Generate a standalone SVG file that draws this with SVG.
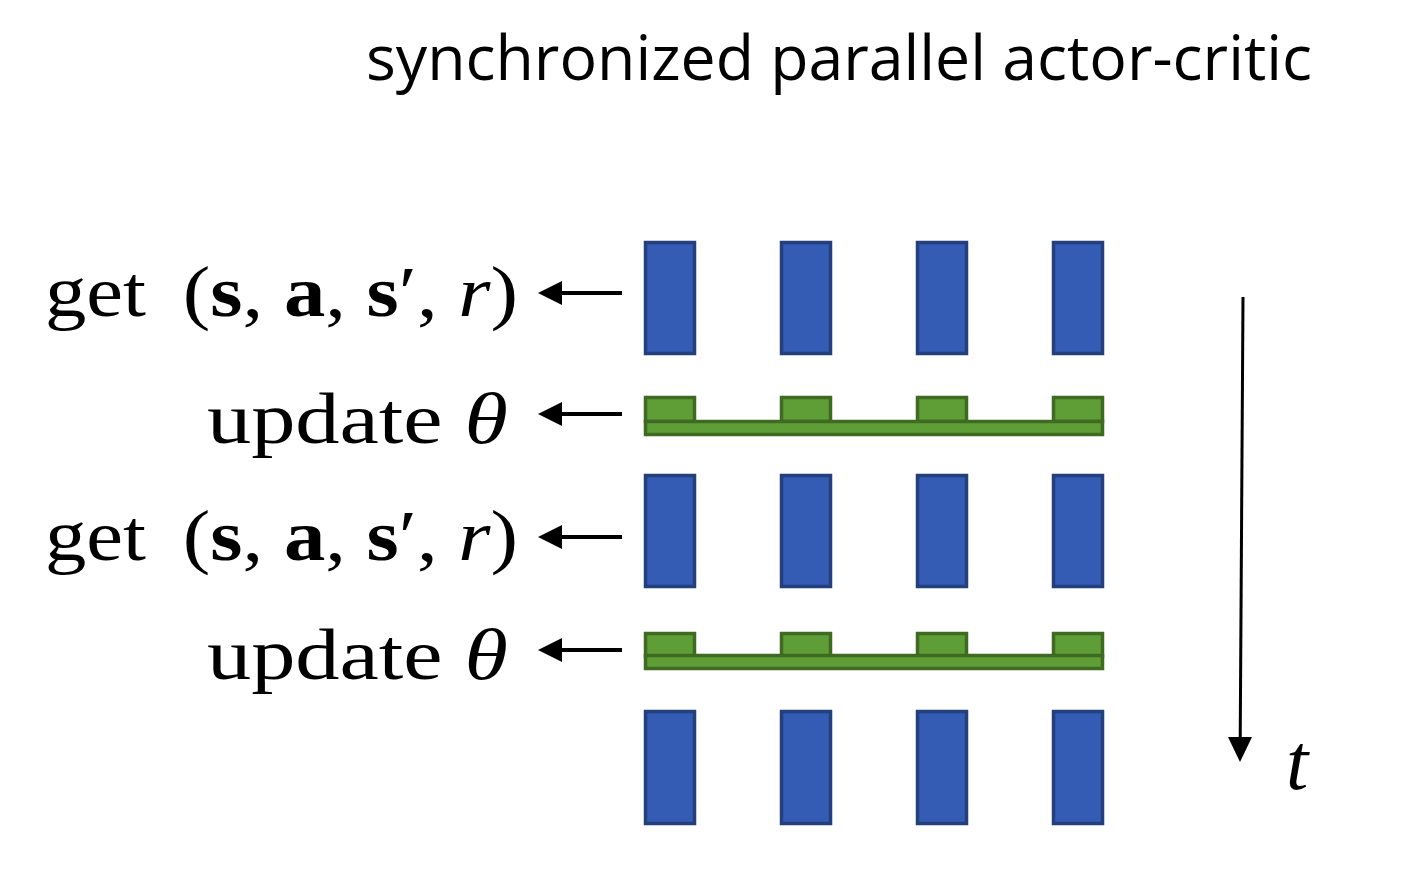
<svg xmlns="http://www.w3.org/2000/svg" width="1409" height="887" viewBox="0 0 1409 887">
<style>
.blue{fill:#355cb5;stroke:#233f7c;stroke-width:3.5}
.green{fill:#5f9e36;stroke:#3e6a22;stroke-width:3.5}
.math{font-family:"Liberation Serif","DejaVu Serif",serif;font-size:72px;fill:#000}
.title{font-family:"Open Sans","Noto Sans",sans-serif;font-size:63px;fill:#000}
.arr{stroke:#000;stroke-width:4;fill:none}
</style>
<rect width="1409" height="887" fill="#fff"/>
<text class="title" x="366" y="80" textLength="946" lengthAdjust="spacingAndGlyphs">synchronized parallel actor-critic</text>

<g id="label-get1"><text class="math" x="45" y="316" textLength="473" lengthAdjust="spacingAndGlyphs">get <tspan dx="14">(</tspan><tspan font-weight="bold">s</tspan>, <tspan font-weight="bold">a</tspan>, <tspan font-weight="bold">s</tspan>′, <tspan font-style="italic">r</tspan>)</text></g>
<g id="label-update1"><text class="math" x="207" y="443" textLength="301" lengthAdjust="spacingAndGlyphs">update <tspan font-style="italic">θ</tspan></text></g>
<g id="label-get2"><text class="math" x="45" y="560" textLength="473" lengthAdjust="spacingAndGlyphs">get <tspan dx="14">(</tspan><tspan font-weight="bold">s</tspan>, <tspan font-weight="bold">a</tspan>, <tspan font-weight="bold">s</tspan>′, <tspan font-style="italic">r</tspan>)</text></g>
<g id="label-update2"><text class="math" x="207" y="679" textLength="301" lengthAdjust="spacingAndGlyphs">update <tspan font-style="italic">θ</tspan></text></g>

<g id="workers-row1">
<rect class="blue" x="645.5" y="242.5" width="49" height="111"/>
<rect class="blue" x="781.5" y="242.5" width="49" height="111"/>
<rect class="blue" x="917.5" y="242.5" width="49" height="111"/>
<rect class="blue" x="1053.5" y="242.5" width="49" height="111"/>
</g>
<g id="update-bar1">
<rect class="green" x="645.5" y="397.5" width="49" height="24"/>
<rect class="green" x="781.5" y="397.5" width="49" height="24"/>
<rect class="green" x="917.5" y="397.5" width="49" height="24"/>
<rect class="green" x="1053.5" y="397.5" width="49" height="24"/>
<rect class="green" x="645.5" y="421.5" width="457" height="13"/>
</g>
<g id="workers-row2">
<rect class="blue" x="645.5" y="475.5" width="49" height="111"/>
<rect class="blue" x="781.5" y="475.5" width="49" height="111"/>
<rect class="blue" x="917.5" y="475.5" width="49" height="111"/>
<rect class="blue" x="1053.5" y="475.5" width="49" height="111"/>
</g>
<g id="update-bar2">
<rect class="green" x="645.5" y="633.5" width="49" height="23"/>
<rect class="green" x="781.5" y="633.5" width="49" height="23"/>
<rect class="green" x="917.5" y="633.5" width="49" height="23"/>
<rect class="green" x="1053.5" y="633.5" width="49" height="23"/>
<rect class="green" x="645.5" y="655.5" width="457" height="13"/>
</g>
<g id="workers-row3">
<rect class="blue" x="645.5" y="711.5" width="49" height="112"/>
<rect class="blue" x="781.5" y="711.5" width="49" height="112"/>
<rect class="blue" x="917.5" y="711.5" width="49" height="112"/>
<rect class="blue" x="1053.5" y="711.5" width="49" height="112"/>
</g>

<g id="connectors">
<line class="arr" x1="622" y1="293" x2="560" y2="293"/>
<polygon points="538,293 562,281 562,305" fill="#000"/>
<line class="arr" x1="622" y1="414" x2="560" y2="414"/>
<polygon points="538,414 562,402 562,426" fill="#000"/>
<line class="arr" x1="622" y1="537" x2="560" y2="537"/>
<polygon points="538,537 562,525 562,549" fill="#000"/>
<line class="arr" x1="622" y1="650" x2="560" y2="650"/>
<polygon points="538,650 562,638 562,662" fill="#000"/>
<line x1="1243" y1="297" x2="1240.2" y2="740" stroke="#000" stroke-width="3"/>
<polygon points="1228,737 1252,737 1240,762" fill="#000"/>
</g>
<g id="label-t"><text class="math" x="1286" y="789" style="font-style:italic;font-size:80px">t</text></g>
</svg>
